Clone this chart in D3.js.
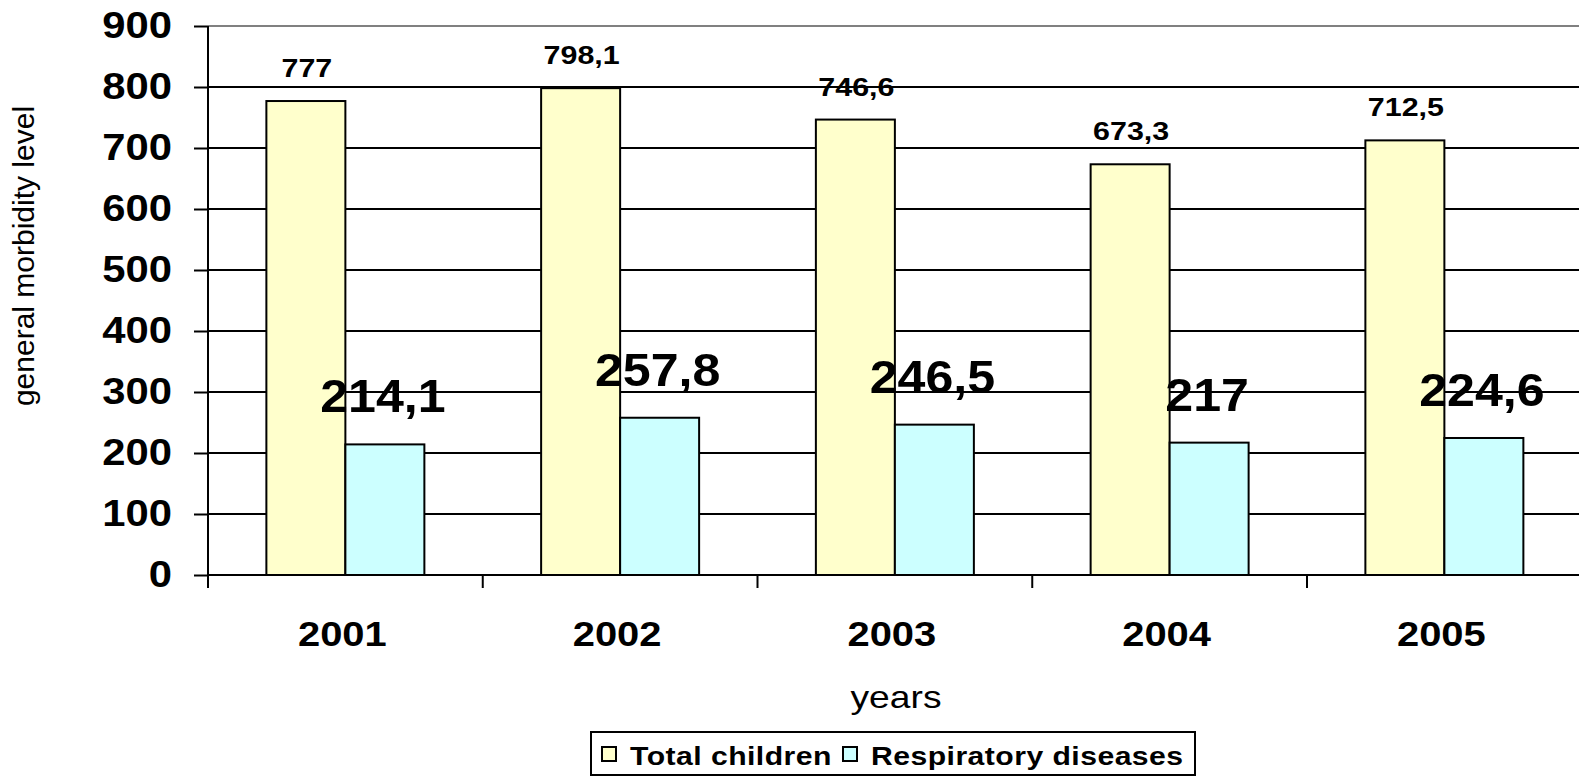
<!DOCTYPE html>
<html lang="en">
<head>
    <meta charset="UTF-8">
    <title>General morbidity level</title>
    <script src="https://cdnjs.cloudflare.com/ajax/libs/d3/7.9.0/d3.min.js"></script>
    <style>
        html, body { margin: 0; padding: 0; background: #fff; overflow: hidden; }
        svg { display: block; font-family: "Liberation Sans", Arial, sans-serif; }
    </style>
</head>
<body>
<div id="chart"></div>
<script>
    // values
    const years = ['2001', '2002', '2003', '2004', '2005'];
    const seriesNames = ['Total children', 'Respiratory diseases'];
    const totalChildren = [777, 798.1, 746.6, 673.3, 712.5];
    const respiratory = [214.1, 257.8, 246.5, 217, 224.6];
    const yTicks = [0, 100, 200, 300, 400, 500, 600, 700, 800, 900];
    const seriesColors = ['#FFFFCC', '#CCFFFF'];

    const width = 1579, height = 779;
    const plotLeft = 208, plotTop = 26, plotBottom = 575;
    const step = 274.75;

    const svg = d3.select('#chart').append('svg')
        .attr('width', width)
        .attr('height', height);

    // the original picture is a bit wider than tall, so glyphs get stretched
    function stretch(sel, sx) {
        sel.each(function () {
            const t = d3.select(this);
            const x = +t.attr('x') || 0;
            t.attr('x', 0).attr('transform', `translate(${x},0) scale(${sx},1)`);
        });
    }

    const x0 = d3.scaleBand()
        .domain(years)
        .range([plotLeft, plotLeft + step * years.length])
        .padding(0);

    const x1 = d3.scaleBand()
        .domain(seriesNames)
        .range([0, x0.bandwidth()])
        .paddingInner(0)
        .paddingOuter(0.739);

    const y = d3.scaleLinear()
        .domain([0, 900])
        .range([plotBottom, plotTop]);

    const fmt = v => String(v).replace('.', ',');

    // grid lines
    svg.append('g')
        .selectAll('line')
        .data(yTicks.filter(d => d > 0))
        .enter().append('line')
        .attr('x1', plotLeft)
        .attr('x2', width)
        .attr('y1', d => y(d))
        .attr('y2', d => y(d))
        .attr('stroke', d => d === 900 ? '#808080' : '#000')
        .attr('stroke-width', 2);

    // bars
    const data = years.map((yr, i) => ({
        year: yr,
        values: [
            { name: seriesNames[0], value: totalChildren[i] },
            { name: seriesNames[1], value: respiratory[i] }
        ]
    }));

    const groups = svg.append('g')
        .selectAll('g')
        .data(data)
        .enter().append('g')
        .attr('transform', d => `translate(${x0(d.year)},0)`);

    groups.selectAll('rect')
        .data(d => d.values)
        .enter().append('rect')
        .attr('x', d => x1(d.name))
        .attr('y', d => y(d.value))
        .attr('width', x1.bandwidth())
        .attr('height', d => y(0) - y(d.value))
        .attr('fill', (d, i) => seriesColors[i])
        .attr('stroke', '#000')
        .attr('stroke-width', 2);

    // y axis
    const yAxis = svg.append('g')
        .attr('transform', `translate(${plotLeft},0)`)
        .call(d3.axisLeft(y).tickValues(yTicks).tickSize(14).tickPadding(22));
    yAxis.select('.domain').remove();
    yAxis.selectAll('line').attr('stroke', '#000').attr('stroke-width', 2);
    yAxis.selectAll('text')
        .attr('font-size', 37)
        .attr('font-weight', 'bold')
        .attr('fill', '#000')
        .call(stretch, 1.13);

    svg.append('line')
        .attr('x1', plotLeft).attr('x2', plotLeft)
        .attr('y1', plotTop).attr('y2', plotBottom + 13)
        .attr('stroke', '#000').attr('stroke-width', 2);

    // x axis
    const xAxis = svg.append('g')
        .attr('transform', `translate(0,${plotBottom})`)
        .call(d3.axisBottom(x0).tickSize(0).tickPadding(46));
    xAxis.select('.domain').remove();
    xAxis.selectAll('text')
        .attr('font-size', 35)
        .attr('font-weight', 'bold')
        .attr('fill', '#000')
        .attr('x', -3)
        .call(stretch, 1.14);

    svg.append('line')
        .attr('x1', plotLeft).attr('x2', width)
        .attr('y1', plotBottom).attr('y2', plotBottom)
        .attr('stroke', '#000').attr('stroke-width', 2);

    svg.append('g')
        .selectAll('line')
        .data(years)
        .enter().append('line')
        .attr('x1', d => x0(d))
        .attr('x2', d => x0(d))
        .attr('y1', plotBottom)
        .attr('y2', plotBottom + 13)
        .attr('stroke', '#000')
        .attr('stroke-width', 2);

    // value labels
    groups.append('text')
        .attr('x', d => x1(seriesNames[0]) + x1.bandwidth() / 2 + 1)
        .attr('y', d => y(d.values[0].value) - 24)
        .attr('text-anchor', 'middle')
        .attr('font-size', 26)
        .attr('font-weight', 'bold')
        .text(d => fmt(d.values[0].value))
        .call(stretch, 1.17);

    groups.append('text')
        .attr('x', d => x1(seriesNames[1]) + x1.bandwidth() / 2 - 2)
        .attr('y', d => y(d.values[1].value) - 32)
        .attr('text-anchor', 'middle')
        .attr('font-size', 46)
        .attr('font-weight', 'bold')
        .text(d => fmt(d.values[1].value))
        .call(stretch, 1.09);

    // axis titles
    svg.append('text')
        .attr('transform', 'translate(34,256) rotate(-90)')
        .attr('text-anchor', 'middle')
        .attr('font-size', 30)
        .text('general morbidity level');

    svg.append('text')
        .attr('x', 896)
        .attr('y', 708)
        .attr('text-anchor', 'middle')
        .attr('font-size', 31)
        .text('years')
        .call(stretch, 1.2);

    // legend
    const legend = svg.append('g');
    legend.append('rect')
        .attr('x', 591).attr('y', 732)
        .attr('width', 604).attr('height', 43)
        .attr('fill', '#fff')
        .attr('stroke', '#000')
        .attr('stroke-width', 2);

    const legendX = [602, 843];
    const item = legend.selectAll('g.item')
        .data(seriesNames)
        .enter().append('g')
        .attr('class', 'item')
        .attr('transform', (d, i) => `translate(${legendX[i]},747)`);

    item.append('rect')
        .attr('width', 14).attr('height', 14)
        .attr('fill', (d, i) => seriesColors[i])
        .attr('stroke', '#000')
        .attr('stroke-width', 2);

    item.append('text')
        .attr('x', 28)
        .attr('y', 18)
        .attr('font-size', 26)
        .attr('font-weight', 'bold')
        .attr('letter-spacing', 0.4)
        .text(d => d)
        .call(stretch, 1.16);
</script>
</body>
</html>
